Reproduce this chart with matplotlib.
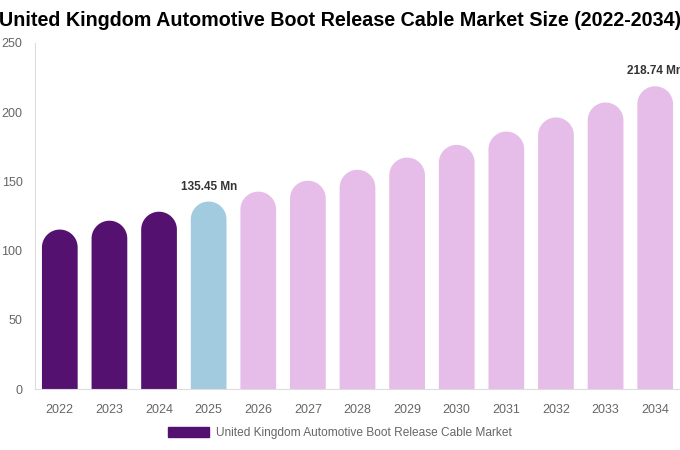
import numpy as np
import matplotlib.pyplot as plt
from matplotlib.patches import PathPatch, Patch
from matplotlib.path import Path

plt.rcParams['font.family'] = ['Liberation Sans', 'DejaVu Sans']

# Datos del gráfico
years = ['2022', '2023', '2024', '2025', '2026', '2027', '2028', '2029', '2030',
         '2031', '2032', '2033', '2034']
values = [115.2, 121.6, 128.1, 135.45, 142.6, 150.5, 158.4, 167.2, 176.4,
          186.0, 196.2, 207.0, 218.74]
labels = {3: '135.45 Mn', 12: '218.74 Mn'}

c_hist = '#541170'
c_base = '#a3cbdf'
c_fore = '#e6bce8'
colors = [c_hist] * 3 + [c_base] + [c_fore] * 9

fig = plt.figure(figsize=(6.8, 4.5), dpi=100)
ax = fig.add_axes([35 / 680, 61 / 450, 645 / 680, 346 / 450])
ax.set_xlim(-0.5, len(years) - 0.5)
ax.set_ylim(0, 250)

# escala en píxeles para que la punta redondeada sea un semicírculo
bbox = ax.get_window_extent()
px_x = bbox.width / len(years)
px_y = bbox.height / 250

w = 0.72
rx = w / 2
ry = rx * px_x / px_y
t = np.linspace(0, np.pi, 40)

for i, (v, c) in enumerate(zip(values, colors)):
    xs = np.concatenate([[i - rx], i - rx * np.cos(t), [i + rx]])
    ys = np.concatenate([[0], v - ry + ry * np.sin(t), [0]])
    ax.add_patch(PathPatch(Path(np.column_stack([xs, ys])), facecolor=c, lw=0))
    if i in labels:
        ax.text(i, v + 6.5, labels[i], ha='center', va='bottom', fontsize=8.5,
                fontweight='bold', color='#333333', clip_on=False)

ax.set_xticks(range(len(years)))
ax.set_xticklabels(years)
ax.set_yticks([0, 50, 100, 150, 200, 250])
ax.tick_params(length=0, colors='#666666', labelsize=9)
ax.tick_params(axis='x', pad=10.5)
ax.tick_params(axis='y', pad=9)
for s in ['top', 'right']:
    ax.spines[s].set_visible(False)
ax.spines['left'].set_color('#dddddd')
ax.spines['bottom'].set_color('#dddddd')

fig.text(0.5, 1 - 20 / 450, 'United Kingdom Automotive Boot Release Cable Market Size (2022-2034)',
         ha='center', va='center', fontsize=14.2, fontweight='bold', color='#000000')

fig.legend(handles=[Patch(color=c_hist)],
           labels=['United Kingdom Automotive Boot Release Cable Market'],
           loc='center', bbox_to_anchor=(0.5, 1 - 433 / 450), frameon=False,
           handlelength=3.4, handleheight=1.0, handletextpad=0.6,
           fontsize=8.6, labelcolor='#666666')

fig.savefig('out.png', dpi=100)
